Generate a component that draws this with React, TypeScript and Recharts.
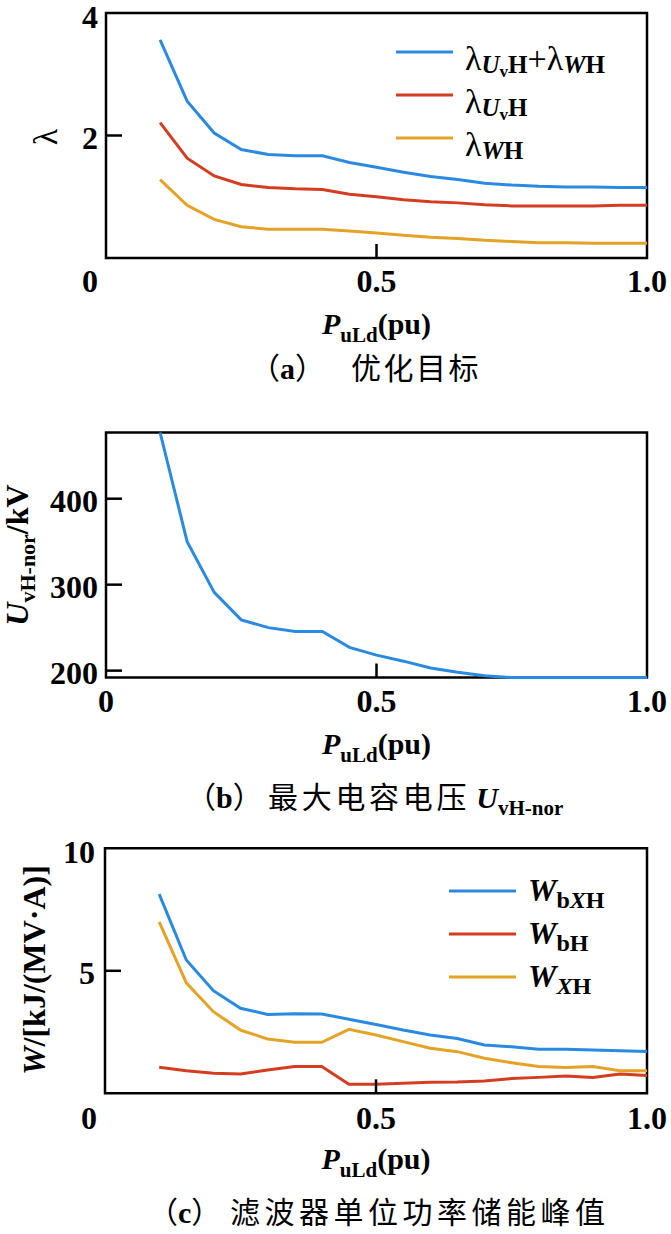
import React from 'react'
import { LineChart, Line, XAxis, YAxis, ReferenceArea, Legend } from 'recharts'

// P_uLd (pu) sample points shared by all three panels
const pu = [0.1, 0.15, 0.2, 0.25, 0.3, 0.35, 0.4, 0.45, 0.5, 0.55, 0.6, 0.65, 0.7, 0.75, 0.8, 0.85, 0.9, 0.95, 1.0]

// (a) optimisation targets
const lambdaSum = [3.56, 2.56, 2.04, 1.77, 1.69, 1.67, 1.67, 1.56, 1.48, 1.4, 1.33, 1.28, 1.22, 1.19, 1.17, 1.16, 1.16, 1.15, 1.15]
const lambdaU = [2.21, 1.63, 1.34, 1.2, 1.15, 1.13, 1.12, 1.04, 1.0, 0.95, 0.92, 0.9, 0.87, 0.85, 0.85, 0.85, 0.85, 0.86, 0.86]
const lambdaW = [1.28, 0.86, 0.63, 0.51, 0.47, 0.47, 0.47, 0.44, 0.41, 0.37, 0.34, 0.32, 0.29, 0.27, 0.25, 0.25, 0.24, 0.24, 0.24]

// (b) max capacitor voltage, kV
const uvhNor = [477, 350, 291, 259, 250, 245.5, 245.5, 227, 218, 211, 203, 198, 194, 192, 192, 192, 192, 192, 192]

// (c) peak stored energy per unit power, kJ/(MV·A)
const wbxh = [8.13, 5.44, 4.19, 3.47, 3.22, 3.25, 3.24, 3.02, 2.81, 2.58, 2.38, 2.24, 1.97, 1.9, 1.8, 1.8, 1.77, 1.74, 1.71]
const wbh = [1.06, 0.92, 0.82, 0.79, 0.95, 1.09, 1.09, 0.37, 0.37, 0.41, 0.45, 0.46, 0.5, 0.6, 0.65, 0.71, 0.65, 0.79, 0.73]
const wxh = [7.0, 4.51, 3.33, 2.58, 2.22, 2.08, 2.08, 2.61, 2.38, 2.11, 1.84, 1.7, 1.43, 1.25, 1.09, 1.05, 1.09, 0.92, 0.92]

const xTicks = [0, 0.5, 1]
const xTickLabels = ['0', '0.5', '1.0']
const lambdaTicks = [2, 4]
const uTicks = [200, 300, 400]
const wTicks = [5, 10]

const BLUE = '#2a8ae2'
const RED = '#d43d20'
const YELLOW = '#e4a327'
const SERIF = '"Liberation Serif", "Times New Roman", serif'
const CJK = '"Noto Sans CJK SC", "Noto Sans CJK JP", sans-serif'

const dataA = pu.map((p, i) => ({ p, sum: lambdaSum[i], u: lambdaU[i], w: lambdaW[i] }))
const dataB = pu.map((p, i) => ({ p, v: uvhNor[i] }))
const dataC = pu.map((p, i) => ({ p, bx: wbxh[i], b: wbh[i], x: wxh[i] }))

const PLOT_RIGHT = 647
const PLOT_H = 245

function XTick(props: any) {
  const { x, y, payload, zeroDx, dy } = props
  const v = payload.value
  const label = xTickLabels[xTicks.indexOf(v)] ?? String(v)
  const inner = v > 0 && v < 1
  return (
    <g>
      {inner && <line x1={x} y1={y} x2={x} y2={y - 14} stroke="#000" strokeWidth={2.5} />}
      <text
        x={v === 0 ? x + zeroDx : x}
        y={y + dy}
        textAnchor="middle"
        dominantBaseline="central"
        fontFamily={SERIF}
        fontWeight="bold"
        fontSize={32}
        fill="#000"
      >
        {label}
      </text>
    </g>
  )
}

function YTick(props: any) {
  const { x, y, payload, lo, hi, gap } = props
  const v = payload.value
  const inner = v > lo && v < hi
  return (
    <g>
      {inner && <line x1={x} y1={y} x2={x + 16} y2={y} stroke="#000" strokeWidth={2.5} />}
      <text
        x={x - gap}
        y={v === hi ? y + 4 : y + 2}
        textAnchor="end"
        dominantBaseline="central"
        fontFamily={SERIF}
        fontWeight="bold"
        fontSize={32}
        fill="#000"
      >
        {v}
      </text>
    </g>
  )
}

function XTitle({ left, bottom, capDy, caption }: { left: number; bottom: number; capDy: number; caption: React.ReactNode }) {
  const cx = (left + PLOT_RIGHT) / 2
  return (
    <g>
      <text x={cx} y={bottom + 76} textAnchor="middle" fontFamily={SERIF} fontWeight="bold" fontSize={30} fill="#000">
        <tspan fontStyle="italic">P</tspan>
        <tspan fontSize={21} dy={8}>uLd</tspan>
        <tspan dy={-8}>(pu)</tspan>
      </text>
      <g transform={`translate(0 ${bottom + capDy})`}>{caption}</g>
    </g>
  )
}

function Caption({ start, letter, bodyX, spacing, body, extra }: any) {
  return (
    <text x={start} y={0} fontFamily={CJK} fontSize={30} fill="#000">
      <tspan>（</tspan>
      <tspan fontFamily={SERIF} fontWeight="bold">{letter}</tspan>
      <tspan>）</tspan>
      <tspan x={bodyX} letterSpacing={spacing}>{body}</tspan>
      {extra}
    </text>
  )
}

const lambdaLabels: Record<string, React.ReactNode> = {
  sum: (
    <>
      <tspan>λ</tspan>
      <tspan fontSize={25} dy={3} fontStyle="italic" fontWeight="bold">U</tspan>
      <tspan fontSize={17} dy={4} fontWeight="bold">v</tspan>
      <tspan fontSize={25} dy={-4} fontWeight="bold">H</tspan>
      <tspan dy={-3}>+λ</tspan>
      <tspan fontSize={25} dy={3} fontStyle="italic" fontWeight="bold">W</tspan>
      <tspan fontSize={25} fontWeight="bold">H</tspan>
    </>
  ),
  u: (
    <>
      <tspan>λ</tspan>
      <tspan fontSize={25} dy={3} fontStyle="italic" fontWeight="bold">U</tspan>
      <tspan fontSize={17} dy={4} fontWeight="bold">v</tspan>
      <tspan fontSize={25} dy={-4} fontWeight="bold">H</tspan>
    </>
  ),
  w: (
    <>
      <tspan>λ</tspan>
      <tspan fontSize={25} dy={3} fontStyle="italic" fontWeight="bold">W</tspan>
      <tspan fontSize={25} fontWeight="bold">H</tspan>
    </>
  ),
}

const wLabels: Record<string, React.ReactNode> = {
  bx: (
    <>
      <tspan fontStyle="italic">W</tspan>
      <tspan fontSize={24} dy={7}>b</tspan>
      <tspan fontSize={24} fontStyle="italic">X</tspan>
      <tspan fontSize={24}>H</tspan>
    </>
  ),
  b: (
    <>
      <tspan fontStyle="italic">W</tspan>
      <tspan fontSize={24} dy={7}>bH</tspan>
    </>
  ),
  x: (
    <>
      <tspan fontStyle="italic">W</tspan>
      <tspan fontSize={24} dy={7} fontStyle="italic">X</tspan>
      <tspan fontSize={24}>H</tspan>
    </>
  ),
}

function makeLegend(labels: Record<string, React.ReactNode>, order: string[], g: any) {
  return (props: any) => {
    const items = [...(props.payload ?? [])].sort(
      (a: any, b: any) => order.indexOf(a.dataKey) - order.indexOf(b.dataKey),
    )
    return (
      <svg width={g.w} height={g.h} style={{ overflow: 'visible', display: 'block' }}>
        {items.map((entry: any, i: number) => {
          const y = g.y0 + i * g.gap
          return (
            <g key={entry.dataKey}>
              <line x1={g.x0} x2={g.x1} y1={y} y2={y} stroke={entry.color} strokeWidth={3} />
              <text x={g.tx} y={y + g.base} fontFamily={SERIF} fontSize={g.fs} fontWeight={g.bold ? 'bold' : 'normal'} fill="#000">
                {labels[entry.dataKey]}
              </text>
            </g>
          )
        })}
      </svg>
    )
  }
}

const lineProps = { type: 'linear' as const, dot: false, strokeWidth: 3, isAnimationActive: false, activeDot: false }

export default function App(): JSX.Element {
  return (
    <div style={{ position: 'absolute', left: 0, top: 0, width: 671, height: 1234, background: '#fff' }}>
      {/* (a) */}
      <div style={{ position: 'absolute', left: 0, top: 0 }}>
        <LineChart width={671} height={410} data={dataA} margin={{ top: 13, right: 671 - PLOT_RIGHT, bottom: 0, left: 0 }}>
          <XAxis
            dataKey="p"
            type="number"
            domain={[0, 1]}
            ticks={xTicks}
            interval={0}
            axisLine={false}
            tickLine={false}
            tickSize={0}
            tickMargin={0}
            height={410 - 13 - PLOT_H}
            tick={(p: any) => <XTick {...p} zeroDx={-16} dy={23} />}
            label={() => (
              <XTitle
                left={106}
                bottom={13 + PLOT_H}
                capDy={121}
                caption={<Caption start={250} letter="a" bodyX={351} spacing={2.5} body="优化目标" />}
              />
            )}
          />
          <YAxis
            type="number"
            domain={[0, 4]}
            ticks={lambdaTicks}
            interval={0}
            width={106}
            axisLine={false}
            tickLine={false}
            tickSize={0}
            tickMargin={0}
            tick={(p: any) => <YTick {...p} lo={0} hi={4} gap={8} />}
            label={() => (
              <text
                x={45}
                y={137}
                transform="rotate(-90 45 137)"
                textAnchor="middle"
                dominantBaseline="central"
                fontFamily={SERIF}
                fontSize={34}
                fill="#000"
              >
                λ
              </text>
            )}
          />
          <ReferenceArea x1={0} x2={1} y1={0} y2={4} fill="none" stroke="#000" strokeWidth={2.5} />
          <Line dataKey="sum" stroke={BLUE} {...lineProps} />
          <Line dataKey="u" stroke={RED} {...lineProps} />
          <Line dataKey="w" stroke={YELLOW} {...lineProps} />
          <Legend
            layout="vertical"
            align="center"
            verticalAlign="middle"
            wrapperStyle={{ position: 'absolute', left: 390, top: 30, width: 270, height: 130 }}
            content={makeLegend(lambdaLabels, ['sum', 'u', 'w'], { w: 270, h: 130, x0: 6, x1: 63, tx: 75, y0: 22, gap: 43, base: 18, fs: 34, bold: false })}
          />
        </LineChart>
      </div>

      {/* (b) */}
      <div style={{ position: 'absolute', left: 0, top: 420 }}>
        <LineChart width={671} height={400} data={dataB} margin={{ top: 12.5, right: 671 - PLOT_RIGHT, bottom: 0, left: 0 }}>
          <XAxis
            dataKey="p"
            type="number"
            domain={[0, 1]}
            ticks={xTicks}
            interval={0}
            axisLine={false}
            tickLine={false}
            tickSize={0}
            tickMargin={0}
            height={400 - 12.5 - PLOT_H}
            tick={(p: any) => <XTick {...p} zeroDx={0} dy={23} />}
            label={() => (
              <XTitle
                left={106}
                bottom={12.5 + PLOT_H}
                capDy={130}
                caption={
                  <Caption
                    start={186}
                    letter="b"
                    bodyX={268}
                    spacing={3.7}
                    body="最大电容电压"
                    extra={
                      <>
                        <tspan dx={6} fontFamily={SERIF} fontWeight="bold" fontStyle="italic" letterSpacing={0}>U</tspan>
                        <tspan fontFamily={SERIF} fontWeight="bold" fontSize={21} dy={7} letterSpacing={0}>vH-nor</tspan>
                      </>
                    }
                  />
                }
              />
            )}
          />
          <YAxis
            type="number"
            domain={['dataMin', 'dataMax']}
            ticks={uTicks}
            interval={0}
            width={106}
            axisLine={false}
            tickLine={false}
            tickSize={0}
            tickMargin={0}
            tick={(p: any) => <YTick {...p} lo={Math.min(...uvhNor)} hi={Math.max(...uvhNor)} gap={8} />}
            label={() => (
              <text
                x={28}
                y={135}
                transform="rotate(-90 28 135)"
                textAnchor="middle"
                fontFamily={SERIF}
                fontWeight="bold"
                fontSize={32}
                fill="#000"
              >
                <tspan fontStyle="italic">U</tspan>
                <tspan fontSize={22} dy={7}>vH-nor</tspan>
                <tspan dy={-7}>/kV</tspan>
              </text>
            )}
          />
          <ReferenceArea
            x1={0}
            x2={1}
            y1={Math.min(...uvhNor)}
            y2={Math.max(...uvhNor)}
            fill="none"
            stroke="#000"
            strokeWidth={2.5}
          />
          <Line dataKey="v" stroke={BLUE} {...lineProps} />
        </LineChart>
      </div>

      {/* (c) */}
      <div style={{ position: 'absolute', left: 0, top: 835 }}>
        <LineChart width={671} height={399} data={dataC} margin={{ top: 13.3, right: 671 - PLOT_RIGHT, bottom: 0, left: 0 }}>
          <XAxis
            dataKey="p"
            type="number"
            domain={[0, 1]}
            ticks={xTicks}
            interval={0}
            axisLine={false}
            tickLine={false}
            tickSize={0}
            tickMargin={0}
            height={399 - 13.3 - PLOT_H}
            tick={(p: any) => <XTick {...p} zeroDx={-16} dy={25} />}
            label={() => (
              <XTitle
                left={105}
                bottom={13.3 + PLOT_H}
                capDy={130}
                caption={<Caption start={148} letter="c" bodyX={230} spacing={4.5} body="滤波器单位功率储能峰值" />}
              />
            )}
          />
          <YAxis
            type="number"
            domain={[0, 10]}
            ticks={wTicks}
            interval={0}
            width={105}
            axisLine={false}
            tickLine={false}
            tickSize={0}
            tickMargin={0}
            tick={(p: any) => <YTick {...p} lo={0} hi={10} gap={10} />}
            label={() => (
              <text
                x={45}
                y={135}
                transform="rotate(-90 45 135)"
                textAnchor="middle"
                fontFamily={SERIF}
                fontWeight="bold"
                fontSize={32}
                fill="#000"
              >
                <tspan fontStyle="italic">W</tspan>
                <tspan>/[kJ/(MV·A)]</tspan>
              </text>
            )}
          />
          <ReferenceArea x1={0} x2={1} y1={0} y2={10} fill="none" stroke="#000" strokeWidth={2.5} />
          <Line dataKey="bx" stroke={BLUE} {...lineProps} />
          <Line dataKey="b" stroke={RED} {...lineProps} />
          <Line dataKey="x" stroke={YELLOW} {...lineProps} />
          <Legend
            layout="vertical"
            align="center"
            verticalAlign="middle"
            wrapperStyle={{ position: 'absolute', left: 440, top: 25, width: 220, height: 130 }}
            content={makeLegend(wLabels, ['bx', 'b', 'x'], { w: 220, h: 130, x0: 9, x1: 76, tx: 88, y0: 31, gap: 43, base: 10, fs: 32, bold: true })}
          />
        </LineChart>
      </div>
    </div>
  )
}
